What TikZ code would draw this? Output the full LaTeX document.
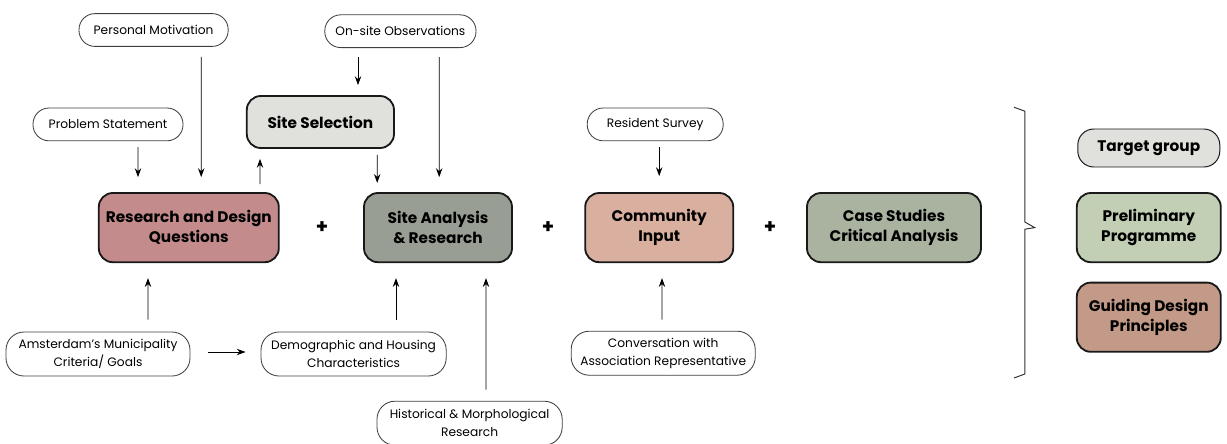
\documentclass[tikz,border=0pt]{standalone}
\usepackage{fontspec}
\setmainfont{Poppins}
\usetikzlibrary{calc,positioning,arrows.meta}

\definecolor{roseq}{HTML}{C48B8C}
\definecolor{greysite}{HTML}{989E93}
\definecolor{peach}{HTML}{D9AFA0}
\definecolor{sage}{HTML}{A9B3A0}
\definecolor{paleg}{HTML}{E0E1DC}
\definecolor{mint}{HTML}{C2CFB4}
\definecolor{clay}{HTML}{C29A87}

\begin{document}
\begin{tikzpicture}[
      mainbox/.style={rounded corners=3.5mm, draw=black!90, line width=1.3pt, align=center,
        minimum height=17.3mm, font=\fontsize{10.9}{14}\selectfont\bfseries},
      inbox/.style={rounded corners=4mm, draw=black!75, line width=0.6pt, fill=white, align=center,
        minimum height=8.2mm, font=\fontsize{8.7}{12.6}\selectfont},
      twoline/.style={inbox, minimum height=11mm, rounded corners=4.5mm},
      plus/.style={font=\fontsize{14}{14}\selectfont\bfseries},
      arr/.style={-{Stealth[length=2.2mm,width=1.6mm]}, line width=0.6pt}
    ]
    \useasboundingbox (0,0) rectangle (30.675,-11.075);

    % Row 1: inputs on top
    \node[inbox, minimum width=37.3mm] (motiv) at (3.84,-0.75) {Personal Motivation};
    \node[inbox, minimum width=37.8mm] (obs)   at (10.01,-0.78) {On-site Observations};

    % Row 2
    \node[inbox, minimum width=37.5mm] (probl) at (2.7,-3.11) {Problem Statement};
    \node[mainbox, fill=paleg, minimum width=36.8mm, minimum height=13mm] (select) at (8.01,-3.05) {Site Selection};
    \node[inbox, minimum width=34mm] (survey) at (16.38,-3.11) {Resident Survey};
    \node[mainbox, fill=paleg, minimum width=35.5mm, minimum height=9.5mm, line width=0.7pt, rounded corners=4mm] (target) at (28.72,-3.7) {Target group};

    % Row 3: main steps
    \node[mainbox, fill=roseq, minimum width=45mm]   (rdq)  at (4.72,-5.69)  {Research and Design\\Questions};
    \node[mainbox, fill=greysite, minimum width=37mm] (site) at (10.95,-5.69) {Site Analysis\\\& Research};
    \node[mainbox, fill=peach, minimum width=37mm]   (comm) at (16.48,-5.69) {Community\\Input};
    \node[mainbox, fill=sage, minimum width=43.5mm]  (cases) at (22.35,-5.69) {Case Studies\\Critical Analysis};
    \node[mainbox, fill=mint, minimum width=36mm]    (prog) at (28.72,-5.69) {Preliminary\\Programme};
    \node[mainbox, fill=clay, minimum width=36mm]    (princ) at (28.72,-7.93) {Guiding Design\\Principles};

    \node[plus] (p1) at (8.05,-5.68) {+};
    \node[plus] (p2) at (13.7,-5.68) {+};
    \node[plus] (p3) at (19.25,-5.68) {+};

    % Row 4 & 5: inputs below
    \node[twoline, minimum width=46mm]  (amst) at (2.45,-8.85)  {Amsterdam’s Municipality\\Criteria/ Goals};
    \node[twoline, minimum width=46.3mm] (demo) at (8.84,-8.85) {Demographic and Housing\\Characteristics};
    \node[twoline, minimum width=46mm]  (conv) at (16.58,-8.83) {Conversation with\\Association Representative};
    \node[twoline, minimum width=46.3mm] (hist) at (11.74,-10.58) {Historical \& Morphological\\Research};

    % Arrows
    \draw[arr, shorten <=1.5mm, shorten >=3.75mm] ([xshift=7.5mm]probl.south) -- ([xshift=-12.7mm]rdq.north);
    \draw[arr, shorten <=2.5mm, shorten >=3.75mm] ([xshift=11.9mm]motiv.south) -- ([xshift=3.1mm]rdq.north);
    \draw[arr, shorten <=2mm, shorten >=2.5mm] ([xshift=17.8mm]rdq.north) -- ([xshift=-15.1mm]select.south);
    \draw[arr, shorten <=2.3mm, shorten >=2.5mm] ([xshift=-10.6mm]obs.south) -- ([xshift=9.4mm]select.north);
    \draw[arr, shorten <=1.5mm, shorten >=2.3mm] ([xshift=14.2mm]select.south) -- ([xshift=-15.2mm]site.north);
    \draw[arr, shorten <=2.3mm, shorten >=3.75mm] ([xshift=9.7mm]obs.south) -- ([xshift=0.3mm]site.north);
    \draw[arr, shorten <=1.5mm, shorten >=4mm] (survey.south) ++(1mm,0) coordinate (sv) (sv) -- (sv |- comm.north);
    \draw[arr, shorten <=3mm, shorten >=3.75mm] ([xshift=12.5mm]amst.north) -- ([xshift=-10.2mm]rdq.south);
    \draw[arr, shorten <=4.3mm, shorten >=3.75mm] ([yshift=0.5mm]amst.east) -- ([yshift=0.5mm]demo.west);
    \draw[arr, shorten <=3mm, shorten >=3.75mm] ([xshift=10.6mm]demo.north) -- ([xshift=-10.5mm]site.south);
    \draw[arr, shorten <=2.8mm, shorten >=3.75mm] ([xshift=4.1mm]hist.north) -- ([xshift=12mm]site.south);
    \draw[arr, shorten <=2.8mm, shorten >=3.75mm] ([xshift=-0.3mm]conv.north) -- ([xshift=0.7mm]comm.south);

    % Bracket gathering the outcomes
    \coordinate (brtip) at ([xshift=-10.3mm]prog.west);
    \draw[line width=0.7pt, black!80, line join=miter]
      (25.35,-2.68) -- (25.62,-2.78) -- (25.62,-5.55) -- (brtip) -- (25.62,-5.73)
      -- (25.62,-9.35) -- (25.35,-9.45);
  \end{tikzpicture}
\end{document}
